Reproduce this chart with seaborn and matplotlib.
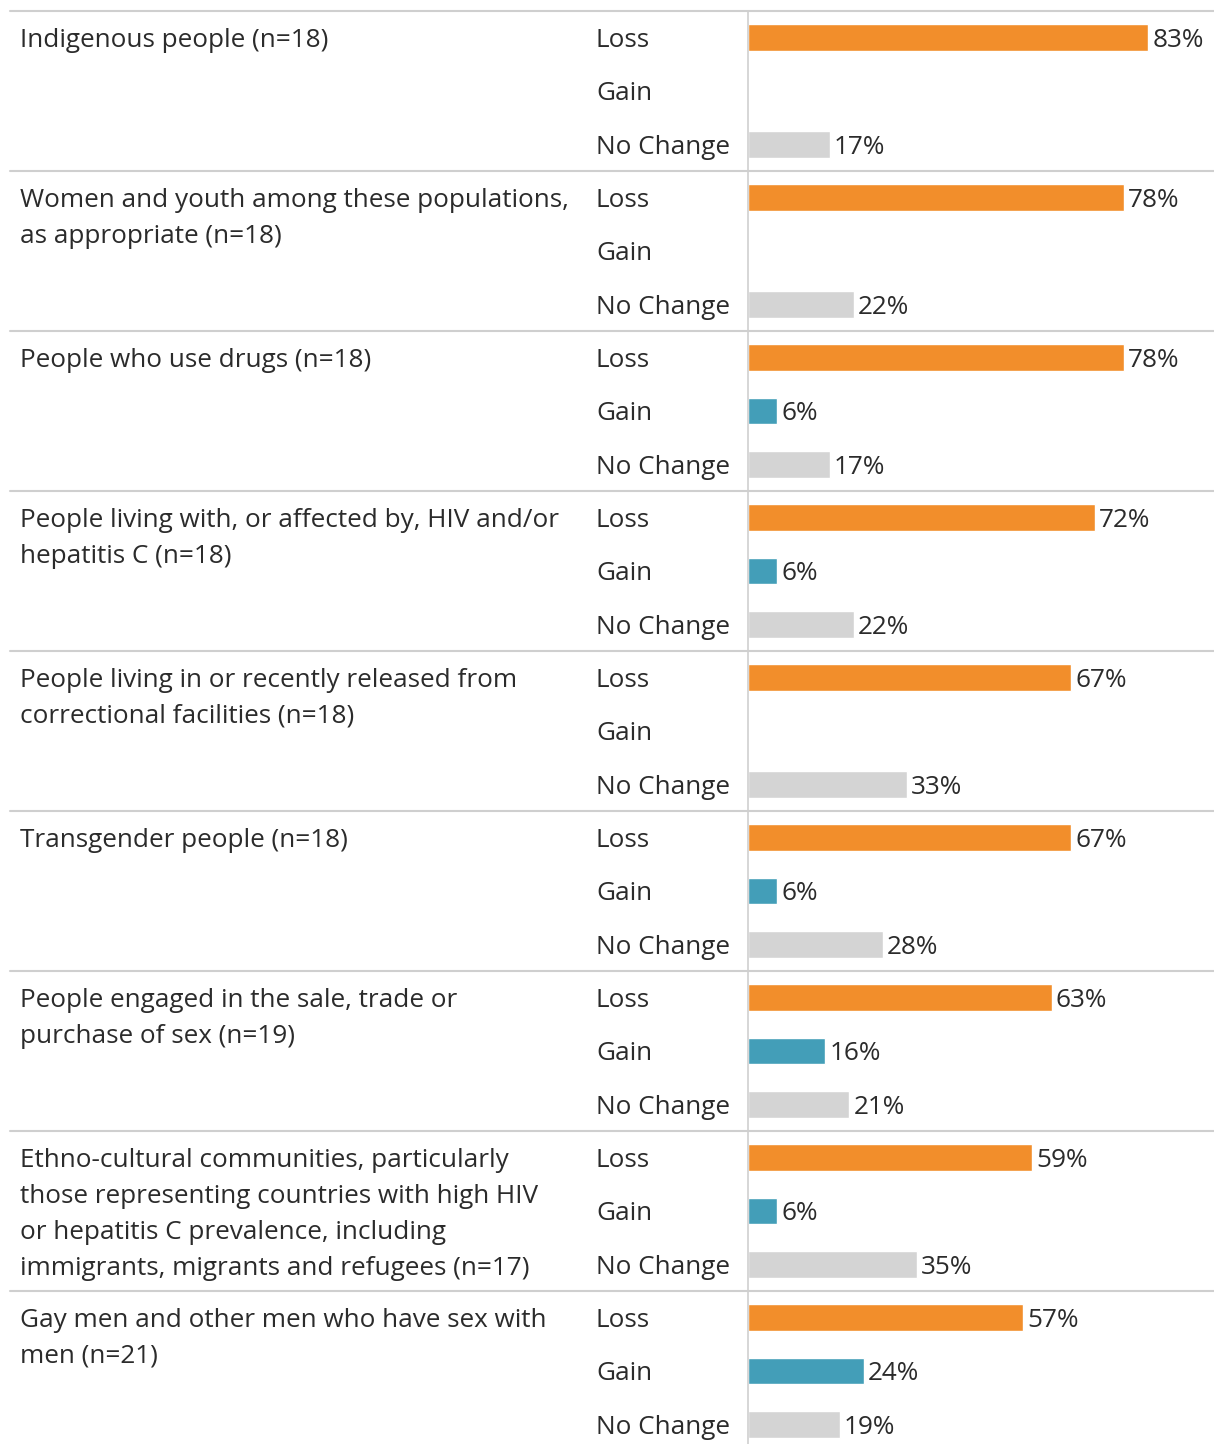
import numpy as np
import pandas as pd
import matplotlib
matplotlib.use("Agg")
import matplotlib.pyplot as plt
import matplotlib.transforms as mtransforms
from matplotlib.lines import Line2D
import seaborn as sns

# Population groups (label lines) and their results
groups = [
    ["Indigenous people (n=18)"],
    ["Women and youth among these populations,", "as appropriate (n=18)"],
    ["People who use drugs (n=18)"],
    ["People living with, or affected by, HIV and/or", "hepatitis C (n=18)"],
    ["People living in or recently released from", "correctional facilities (n=18)"],
    ["Transgender people (n=18)"],
    ["People engaged in the sale, trade or", "purchase of sex (n=19)"],
    ["Ethno-cultural communities, particularly",
     "those representing countries with high HIV",
     "or hepatitis C prevalence, including",
     "immigrants, migrants and refugees (n=17)"],
    ["Gay men and other men who have sex with", "men (n=21)"],
]
changes = ["Loss", "Gain", "No Change"]
loss = [83, 78, 78, 72, 67, 67, 63, 59, 57]
gain = [np.nan, np.nan, 6, 6, np.nan, 6, 16, 6, 24]
no_change = [17, 22, 17, 22, 33, 28, 21, 35, 19]

colors = {"Loss": "#F28E2B", "Gain": "#439EB8", "No Change": "#D4D4D4"}
text_color = "#2b2b2b"
font = ["Open Sans", "DejaVu Sans"]

rows = []
for i in range(len(groups)):
    for ch, vals in zip(changes, [loss, gain, no_change]):
        rows.append({"row": f"{i}-{ch}", "group": i, "change": ch, "value": vals[i]})
df = pd.DataFrame(rows)

sns.set_theme(style="white")
plt.rcParams["font.family"] = font

W, H = 1214, 1444
row_px = 160 / 3
fig = plt.figure(figsize=(W / 100, H / 100), dpi=100)
ax_left = 748 / W
ax_top = 1 - 11 / H
ax_h = (27 * row_px) / H
ax = fig.add_axes([ax_left, ax_top - ax_h, 1 - ax_left, ax_h])

sns.barplot(data=df, x="value", y="row", hue="change", order=df["row"].tolist(),
            hue_order=changes, palette=colors, saturation=1, dodge=False, width=0.5,
            orient="h", legend=False, ax=ax)

ax.set_xlim(0, (W - 748) / 4.82)
ax.set_ylim(26.5, -0.5)
ax.set_xlabel("")
ax.set_ylabel("")
ax.set_xticks([])
ax.set_yticks([])
for s in ["top", "right", "bottom"]:
    ax.spines[s].set_visible(False)
ax.spines["left"].set_color("#cfcfcf")
ax.spines["left"].set_linewidth(1.2)

fs = 18.8
base = 9.2 / row_px          # baseline offset below row centre
line_step = 36 / row_px      # spacing of wrapped label lines
trans = mtransforms.blended_transform_factory(fig.transFigure, ax.transData)

# Value labels at bar ends
for idx, r in df.iterrows():
    if np.isnan(r["value"]):
        continue
    ax.annotate(f"{r['value']:.0f}%", xy=(r["value"], idx + base), xytext=(3, 0),
                textcoords="offset points", va="baseline", ha="left",
                fontsize=fs, color=text_color, family=font)

# Row labels and group labels
for i, lines in enumerate(groups):
    for j, ch in enumerate(changes):
        ax.text(596 / W, i * 3 + j + base, ch, transform=trans, va="baseline", ha="left",
                fontsize=fs, color=text_color, clip_on=False)
    for k, ln in enumerate(lines):
        ax.text(20 / W, i * 3 + k * line_step + base, ln, transform=trans, va="baseline",
                ha="left", fontsize=fs, color=text_color, clip_on=False)
    # separator above each group
    fig.add_artist(Line2D([10 / W, 1.0], [i * 3 - 0.5, i * 3 - 0.5], transform=trans,
                          color="#cfcfcf", linewidth=1.5))

fig.savefig("out.png", dpi=100)
